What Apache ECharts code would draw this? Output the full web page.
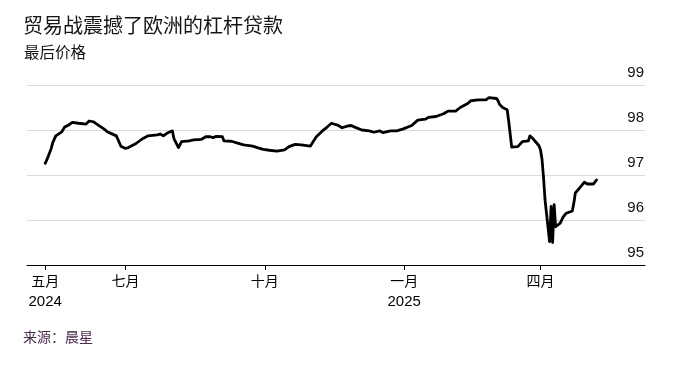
<!DOCTYPE html>
<html>
<head>
<meta charset="utf-8">
<script src="https://cdn.jsdelivr.net/npm/echarts@6/dist/echarts.min.js"></script>
<style>
  html, body { margin: 0; padding: 0; background: #fff; }
  #chart { width: 677px; height: 367px; }
</style>
</head>
<body>
<div id="chart"></div>
<script>
const titleText = '贸易战震撼了欧洲的杠杆贷款';
const subtitleText = '最后价格';
const sourceText = '来源：晨星';

const dates = [
  '2024-05-09','2024-05-10','2024-05-13','2024-05-14','2024-05-16','2024-05-20','2024-05-22','2024-05-24',
  '2024-05-27','2024-05-31','2024-06-05','2024-06-07','2024-06-10','2024-06-13','2024-06-17','2024-06-19',
  '2024-06-21','2024-06-25','2024-06-28','2024-07-01','2024-07-03','2024-07-08','2024-07-12','2024-07-16',
  '2024-07-22','2024-07-24','2024-07-26','2024-07-29','2024-08-01','2024-08-02','2024-08-05','2024-08-07',
  '2024-08-12','2024-08-15','2024-08-20','2024-08-23','2024-08-26','2024-08-28','2024-08-30','2024-09-03',
  '2024-09-04','2024-09-09','2024-09-13','2024-09-17','2024-09-23','2024-09-26','2024-09-30','2024-10-04',
  '2024-10-09','2024-10-14','2024-10-17','2024-10-21','2024-10-25','2024-10-31','2024-11-04','2024-11-08',
  '2024-11-11','2024-11-14','2024-11-18','2024-11-21','2024-11-25','2024-11-27','2024-11-29','2024-12-04',
  '2024-12-09','2024-12-12','2024-12-16','2024-12-18','2024-12-23','2024-12-27','2024-12-31','2025-01-06',
  '2025-01-10','2025-01-15','2025-01-17','2025-01-22','2025-01-27','2025-01-30','2025-02-04','2025-02-07',
  '2025-02-12','2025-02-14','2025-02-19','2025-02-24','2025-02-26','2025-03-03','2025-03-04','2025-03-05',
  '2025-03-07','2025-03-10','2025-03-11','2025-03-13','2025-03-17','2025-03-20','2025-03-24','2025-03-25',
  '2025-03-27','2025-03-31','2025-04-01','2025-04-02','2025-04-03','2025-04-04','2025-04-07','2025-04-08',
  '2025-04-09','2025-04-10','2025-04-11','2025-04-14','2025-04-16','2025-04-18','2025-04-22','2025-04-23',
  '2025-04-24','2025-04-28','2025-04-30','2025-05-02','2025-05-06','2025-05-08'
];
const prices = [
  97.26, 97.33, 97.59, 97.72, 97.87, 97.96, 98.07, 98.10,
  98.17, 98.15, 98.13, 98.20, 98.18, 98.11, 98.02, 97.96,
  97.93, 97.87, 97.64, 97.59, 97.61, 97.70, 97.80, 97.87,
  97.89, 97.91, 97.87, 97.94, 97.98, 97.81, 97.61, 97.74,
  97.76, 97.78, 97.79, 97.85, 97.85, 97.83, 97.86, 97.85,
  97.76, 97.75, 97.71, 97.67, 97.64, 97.61, 97.57, 97.55,
  97.53, 97.56, 97.63, 97.68, 97.67, 97.64, 97.85, 97.98,
  98.06, 98.15, 98.11, 98.05, 98.09, 98.10, 98.07, 98.00,
  97.98, 97.95, 97.98, 97.94, 97.98, 97.98, 98.02, 98.10,
  98.22, 98.24, 98.28, 98.30, 98.36, 98.42, 98.42, 98.50,
  98.59, 98.65, 98.67, 98.67, 98.72, 98.70, 98.65, 98.57,
  98.50, 98.45, 98.20, 97.62, 97.63, 97.74, 97.76, 97.87,
  97.81, 97.65, 97.56, 97.35, 96.95, 96.45, 95.52, 96.30,
  95.50, 96.34, 95.85, 95.93, 96.07, 96.15, 96.20, 96.37,
  96.60, 96.76, 96.84, 96.80, 96.80, 96.89
];

const tickDates = ['2024-05-09', '2024-07-01', '2024-10-01', '2025-01-01', '2025-04-01'];
const tickMonths = ['五月', '七月', '十月', '一月', '四月'];
const tickYears = ['2024', '', '', '2025', ''];

const yMin = 95, yMax = 99, yStep = 1;
const xMin = '2024-04-27', xMax = '2025-06-09';

function ts(s) { const p = s.split('-').map(Number); return Date.UTC(p[0], p[1] - 1, p[2]); }
const tickTs = tickDates.map(ts);

const chart = echarts.init(document.getElementById('chart'), null, { renderer: 'canvas' });
const numFont = '"Liberation Sans", Arial, Helvetica, sans-serif';
const cjkFont = '"Noto Sans CJK SC", "Liberation Sans", sans-serif';

chart.setOption({
  animation: false,
  backgroundColor: '#ffffff',
  title: [
    { text: titleText, left: 23, top: 15, padding: 0,
      textStyle: { fontFamily: cjkFont, fontSize: 20, fontWeight: 'normal', color: '#151515' } },
    { text: subtitleText, left: 24, top: 44, padding: 0,
      textStyle: { fontFamily: cjkFont, fontSize: 15.5, fontWeight: 'normal', color: '#151515' } },
    { text: sourceText, left: 23, top: 330, padding: 0,
      textStyle: { fontFamily: cjkFont, fontSize: 14, fontWeight: 'normal', color: '#4b2b4b' } }
  ],
  grid: { left: 27, right: 32, top: 85, bottom: 102, containLabel: false },
  xAxis: {
    type: 'value',
    min: ts(xMin),
    max: ts(xMax),
    axisLine: { show: true, onZero: false, lineStyle: { color: '#000', width: 1.2 } },
    axisTick: { show: true, length: 5, lineStyle: { color: '#000', width: 1 }, customValues: tickTs },
    splitLine: { show: false },
    axisLabel: {
      customValues: tickTs,
      margin: 6,
      color: '#000',
      showMinLabel: true,
      showMaxLabel: true,
      formatter: function (v) {
        let i = -1;
        for (let k = 0; k < tickTs.length; k++) if (Math.abs(tickTs[k] - v) < 3600e3) i = k;
        if (i < 0) return '';
        return tickYears[i] ? '{m|' + tickMonths[i] + '}\n{y|' + tickYears[i] + '}' : '{m|' + tickMonths[i] + '}';
      },
      rich: {
        m: { fontFamily: cjkFont, fontSize: 14, lineHeight: 20, color: '#000' },
        y: { fontFamily: numFont, fontSize: 15, lineHeight: 22, color: '#000' }
      }
    }
  },
  yAxis: {
    type: 'value',
    position: 'right',
    min: yMin,
    max: yMax,
    interval: yStep,
    axisLine: { show: false },
    axisTick: { show: false },
    splitLine: { show: true, lineStyle: { color: '#dadada', width: 1 } },
    axisLabel: {
      inside: true,
      margin: 1,
      verticalAlign: 'bottom',
      padding: [0, 0, 5, 0],
      fontFamily: numFont,
      fontSize: 15,
      color: '#111'
    }
  },
  series: [{
    type: 'line',
    data: dates.map((d, i) => [ts(d), prices[i]]),
    showSymbol: false,
    symbol: 'none',
    lineStyle: { color: '#000', width: 2.8, join: 'round', cap: 'round' },
    z: 5
  }]
});
</script>
</body>
</html>
